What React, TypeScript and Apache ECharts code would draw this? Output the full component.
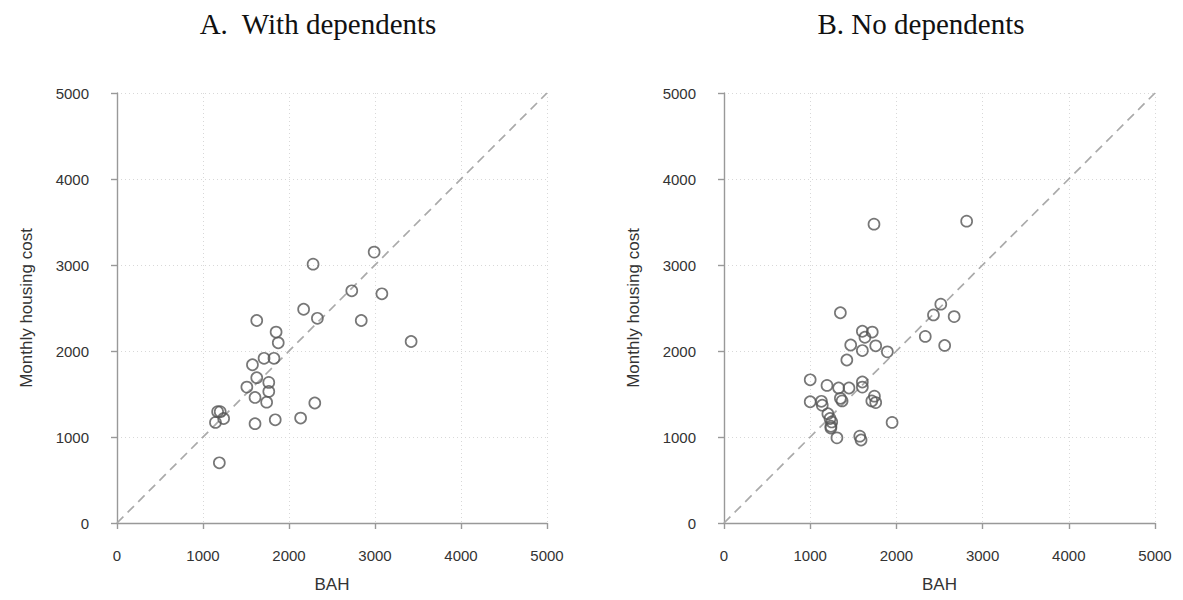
import React, { useEffect, useRef } from "react";
import * as echarts from "echarts";

const panelTitles = ["A.  With dependents", "B. No dependents"];
const axisTicks = [0, 1000, 2000, 3000, 4000, 5000];
const xAxisName = "BAH";
const yAxisName = "Monthly housing cost";

// Panel A: [BAH, Monthly housing cost]
const withDependents: [number, number][] = [
  [2990, 3150], [2280, 3010], [2730, 2700], [3080, 2665], [2170, 2485],
  [2330, 2380], [2840, 2355], [1625, 2355], [1850, 2220], [1875, 2095],
  [3420, 2110], [1710, 1915], [1825, 1915], [1575, 1840], [1625, 1690],
  [1765, 1635], [1510, 1580], [1765, 1530], [1605, 1460], [1740, 1405],
  [2300, 1395], [1170, 1295], [1200, 1295], [1240, 1215], [1145, 1170],
  [1605, 1155], [1840, 1200], [2135, 1220], [1190, 700],
];

// Panel B
const noDependents: [number, number][] = [
  [1740, 3475], [2815, 3510], [1350, 2445], [2515, 2545], [2430, 2420],
  [2670, 2400], [1605, 2230], [1720, 2220], [1635, 2160], [2335, 2170],
  [1470, 2070], [1760, 2060], [2560, 2065], [1605, 2005], [1895, 1990],
  [1425, 1895], [1000, 1665], [1195, 1600], [1330, 1570], [1450, 1570],
  [1605, 1640], [1605, 1580], [1745, 1475], [1715, 1420], [1760, 1400],
  [1000, 1410], [1130, 1415], [1140, 1370], [1350, 1450], [1370, 1420],
  [1205, 1270], [1230, 1215], [1250, 1175], [1240, 1125], [1240, 1105],
  [1950, 1170], [1310, 990], [1575, 1010], [1590, 965],
];

const diagonal: [number, number][] = [
  [axisTicks[0], axisTicks[0]],
  [axisTicks[axisTicks.length - 1], axisTicks[axisTicks.length - 1]],
];

export default function App() {
  const ref = useRef<HTMLDivElement>(null);
  useEffect(() => {
    document.body.style.margin = "0";
    if (!ref.current) return;
    const chart = echarts.init(ref.current, null, { renderer: "svg" });
    const grids = [
      { left: 117, top: 93, width: 430, height: 430 },
      { left: 724, top: 93, width: 431, height: 430 },
    ];
    const labelStyle = {
      color: "#333",
      fontFamily: "Liberation Sans",
      fontSize: 15,
      formatter: (v: number) => String(v),
    };
    const splitLine = {
      show: true,
      lineStyle: { color: "#d8d8d8", type: [1, 3] as any, width: 1 },
    };
    const axisLine = { show: true, lineStyle: { color: "#999", width: 1.4 } };
    const axisTick = { show: true, length: 6, lineStyle: { color: "#999", width: 1.4 } };
    const nameStyle = { color: "#333", fontFamily: "Liberation Sans", fontSize: 17 };
    const mkX = (i: number) => ({
      type: "value",
      gridIndex: i,
      min: 0,
      max: 5000,
      interval: 1000,
      offset: 15,
      name: xAxisName,
      nameLocation: "middle",
      nameGap: 38,
      nameTextStyle: nameStyle,
      axisLine,
      axisTick,
      axisLabel: { ...labelStyle, margin: 10 },
      splitLine,
    });
    const mkY = (i: number) => ({
      type: "value",
      gridIndex: i,
      min: 0,
      max: 5000,
      interval: 1000,
      offset: 16,
      name: yAxisName,
      nameLocation: "middle",
      nameGap: 66,
      nameTextStyle: nameStyle,
      axisLine,
      axisTick,
      axisLabel: { ...labelStyle, margin: 12 },
      splitLine,
    });
    const scatterStyle = {
      color: "rgba(0,0,0,0)",
      borderColor: "#555",
      borderWidth: 1.7,
    };
    const mkLine = (i: number) => ({
      type: "line",
      xAxisIndex: i,
      yAxisIndex: i,
      data: diagonal,
      symbol: "none",
      lineStyle: { color: "#aaa", width: 1.7, type: [9, 6] as any },
      z: 1,
      silent: true,
    });
    const mkScatter = (i: number, data: [number, number][]) => ({
      type: "scatter",
      xAxisIndex: i,
      yAxisIndex: i,
      data,
      symbol: "circle",
      symbolSize: 11,
      itemStyle: scatterStyle,
      z: 3,
    });
    chart.setOption({
      animation: false,
      backgroundColor: "#fff",
      title: panelTitles.map((t, i) => ({
        text: t,
        left: i === 0 ? 313 : 916,
        top: 4,
        textAlign: "center",
        textStyle: {
          fontFamily: "Liberation Serif",
          fontSize: 29,
          fontWeight: "normal",
          color: "#111",
        },
      })),
      grid: grids,
      xAxis: [mkX(0), mkX(1)],
      yAxis: [mkY(0), mkY(1)],
      series: [
        mkLine(0),
        mkScatter(0, withDependents),
        mkLine(1),
        mkScatter(1, noDependents),
      ],
    });
    return () => chart.dispose();
  }, []);
  return <div ref={ref} style={{ width: 1183, height: 600 }} />;
}
